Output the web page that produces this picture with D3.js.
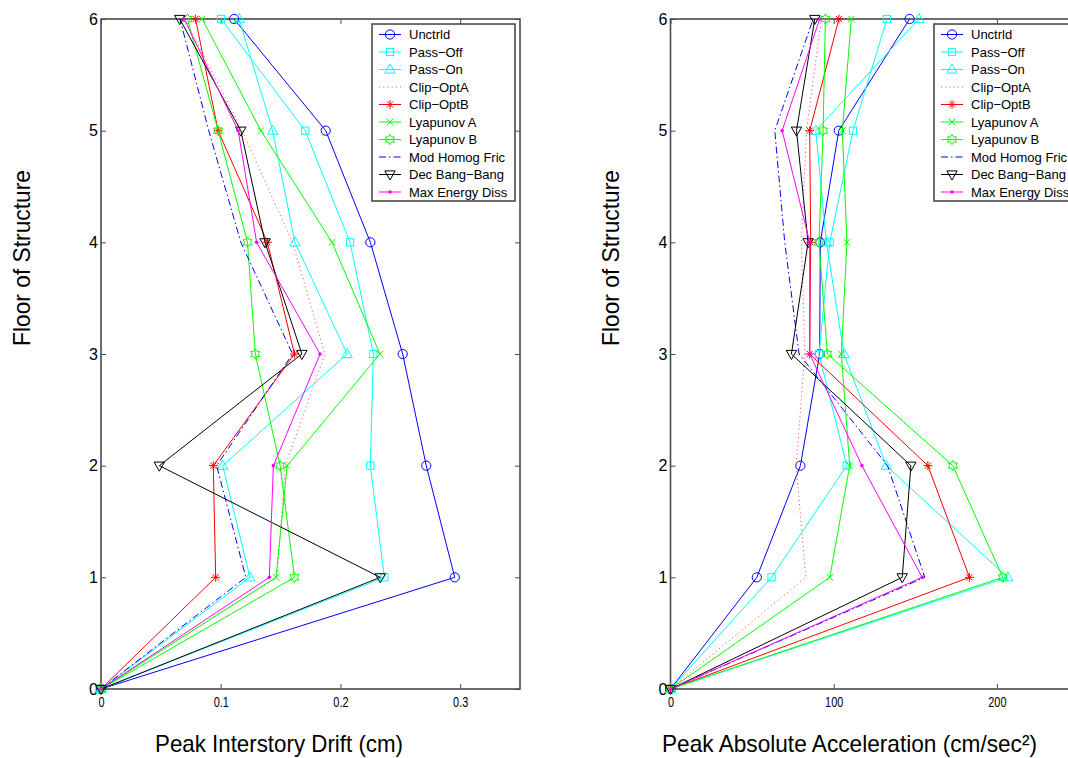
<!DOCTYPE html>
<html>
<head>
<meta charset="utf-8">
<script src="https://cdn.jsdelivr.net/npm/d3@7"></script>
<style>
  html, body { margin: 0; padding: 0; background: #fff; }
  svg { display: block; }
  text { font-family: "Liberation Sans", Arial, Helvetica, sans-serif; fill: #000; }
</style>
</head>
<body>
<svg id="chart" width="1068" height="758"></svg>
<script>
// Floors of the six-storey structure
const floors = [0, 1, 2, 3, 4, 5, 6];

// Controller names (legend order)
const seriesNames = ["Unctrld", "Pass\u2212Off", "Pass\u2212On", "Clip\u2212OptA", "Clip\u2212OptB",
  "Lyapunov A", "Lyapunov B", "Mod Homog Fric", "Dec Bang\u2212Bang", "Max Energy Diss"];

// Peak interstory drift (cm), floors 0..6
const driftUnctrld   = [0, 0.2955, 0.2717, 0.252, 0.225, 0.1877, 0.1112];
const driftPassOff   = [0, 0.2367, 0.225, 0.2275, 0.208, 0.1706, 0.1003];
const driftPassOn    = [0, 0.1244, 0.1017, 0.2056, 0.162, 0.1434, 0.1154];
const driftClipA     = [0, 0.147, 0.154, 0.187, 0.160, 0.118, 0.070];
const driftClipB     = [0, 0.0958, 0.0938, 0.1616, 0.139, 0.0978, 0.079];
const driftLyapA     = [0, 0.1462, 0.1555, 0.233, 0.193, 0.1336, 0.0845];
const driftLyapB     = [0, 0.1616, 0.1496, 0.1289, 0.1224, 0.0978, 0.0722];
const driftModHomog  = [0, 0.121, 0.0966, 0.160, 0.1168, 0.090, 0.066];
const driftDecBang   = [0, 0.2333, 0.0487, 0.1678, 0.137, 0.1168, 0.0658];
const driftMaxEnergy = [0, 0.1406, 0.144, 0.183, 0.130, 0.1146, 0.0695];

// Peak absolute acceleration (cm/sec^2), floors 0..6
const accUnctrld   = [0, 52.9, 79.6, 91.4, 91.8, 103.1, 146.5];
const accPassOff   = [0, 61.9, 108, 91, 97.6, 111.8, 132.6];
const accPassOn    = [0, 206.6, 132.2, 106.3, 95.5, 89, 152.2];
const accClipA     = [0, 82.9, 77, 82.3, 80.2, 83.3, 92.4];
const accClipB     = [0, 183.2, 157.7, 85.3, 85.9, 85.3, 103.2];
const accLyapA     = [0, 97.6, 109.8, 104.7, 108.1, 105.3, 110.8];
const accLyapB     = [0, 203.6, 173, 96.1, 91, 93.5, 94.9];
const accModHomog  = [0, 155.8, 133, 78.8, 70, 63.9, 87.4];
const accDecBang   = [0, 142, 147.3, 74.1, 84.3, 77.2, 88.4];
const accMaxEnergy = [0, 154.2, 117.3, 85.3, 85.3, 68.4, 91.4];

// Tick labels
const driftTicks = [0, 0.1, 0.2, 0.3];
const driftTickLabels = ["0", "0.1", "0.2", "0.3"];
const accTicks = [0, 100, 200];
const accTickLabels = ["0", "100", "200"];
const floorTickLabels = ["0", "1", "2", "3", "4", "5", "6"];

// Line style per series: colour, dash pattern, marker
const styles = [
  { color: "#0000ff", dash: null, marker: "circle" },
  { color: "#00ffff", dash: null, marker: "square" },
  { color: "#00ffff", dash: null, marker: "triUp" },
  { color: "#ff5a5a", dash: "1.2,3", marker: "none" },
  { color: "#ff0000", dash: null, marker: "asterisk" },
  { color: "#00ff00", dash: null, marker: "cross" },
  { color: "#00ff00", dash: null, marker: "hexagram" },
  { color: "#0000ff", dash: "7,3,1.5,3", marker: "none" },
  { color: "#000000", dash: null, marker: "triDown" },
  { color: "#ff00ff", dash: null, marker: "dot" }
];

const svg = d3.select("#chart");
const frameColor = "#4a4a4a";

function drawMarker(g, type, cx, cy, color) {
  const m = g.append("g").attr("transform", `translate(${cx},${cy})`)
    .attr("fill", "none").attr("stroke", color).attr("stroke-width", 1);
  if (type === "circle") {
    m.append("circle").attr("r", 4.6);
  } else if (type === "square") {
    m.append("rect").attr("x", -3.6).attr("y", -3.6).attr("width", 7.2).attr("height", 7.2);
  } else if (type === "triUp") {
    m.append("path").attr("d", "M0,-5.5L5.2,3.6L-5.2,3.6Z");
  } else if (type === "triDown") {
    m.append("path").attr("d", "M0,5.5L5.2,-3.6L-5.2,-3.6Z");
  } else if (type === "asterisk") {
    m.append("path").attr("d", "M-4.4,0H4.4M0,-4.4V4.4M-3.1,-3.1L3.1,3.1M-3.1,3.1L3.1,-3.1");
  } else if (type === "cross") {
    m.append("path").attr("d", "M-3.3,-3.3L3.3,3.3M-3.3,3.3L3.3,-3.3");
  } else if (type === "hexagram") {
    const pts = [];
    for (let i = 0; i < 12; i++) {
      const r = i % 2 === 0 ? 5.2 : 3.0;
      const a = -Math.PI / 2 + i * Math.PI / 6;
      pts.push([r * Math.cos(a), r * Math.sin(a)]);
    }
    m.append("path").attr("d", "M" + pts.map(p => p.join(",")).join("L") + "Z");
  } else if (type === "dot") {
    m.append("circle").attr("r", 1.8).attr("fill", color).attr("stroke", "none");
  }
}

function drawPanel(opts) {
  const { x0, x1, xMax, ticks, tickLabels, series, legendX, title, titleX, titleLen, ylabelX } = opts;
  const yTop = 19, yBot = 689;
  const x = d3.scaleLinear().domain([0, xMax]).range([x0, x1]);
  const y = d3.scaleLinear().domain([0, 6]).range([yBot, yTop]);
  const g = svg.append("g");

  // Box axes with inward ticks on all four sides
  const axB = g.append("g").attr("transform", `translate(0,${yBot})`)
    .call(d3.axisBottom(x).tickValues(ticks).tickSizeInner(-5).tickSizeOuter(0)
      .tickPadding(8).tickFormat((d, i) => tickLabels[i]));
  // Narrow x tick labels, compressed about their own anchor
  axB.selectAll("text").attr("font-size", 14).attr("dy", "0.75em")
    .attr("transform", "scale(0.78,1)");
  const axT = g.append("g").attr("transform", `translate(0,${yTop})`)
    .call(d3.axisTop(x).tickValues(ticks).tickSizeInner(-5).tickSizeOuter(0).tickFormat(""));
  const axL = g.append("g").attr("transform", `translate(${x0},0)`)
    .call(d3.axisLeft(y).tickValues(floors).tickSizeInner(-5).tickSizeOuter(0)
      .tickPadding(3).tickFormat((d, i) => floorTickLabels[i]));
  axL.selectAll("text").attr("font-size", 16);
  const axR = g.append("g").attr("transform", `translate(${x1},0)`)
    .call(d3.axisRight(y).tickValues(floors).tickSizeInner(-5).tickSizeOuter(0).tickFormat(""));
  [axB, axT, axL, axR].forEach(a => {
    a.select(".domain").remove();
    a.selectAll("line").attr("stroke", frameColor).attr("stroke-width", 1);
    a.attr("font-family", null);
  });
  g.append("rect").attr("x", x0).attr("y", yTop).attr("width", x1 - x0).attr("height", yBot - yTop)
    .attr("fill", "none").attr("stroke", frameColor).attr("stroke-width", 1.6);

  // Series lines and markers
  const line = d3.line().x(d => x(d[0])).y(d => y(d[1]));
  series.forEach((vals, i) => {
    const st = styles[i];
    const pts = vals.map((v, k) => [v, floors[k]]);
    g.append("path").datum(pts).attr("d", line)
      .attr("fill", "none").attr("stroke", st.color).attr("stroke-width", 1)
      .attr("stroke-dasharray", st.dash);
    pts.forEach(p => drawMarker(g, st.marker, x(p[0]), y(p[1]), st.color));
  });

  // Legend
  const lg = g.append("g");
  const rowH = 17.5, top = 24;
  lg.append("rect").attr("x", legendX).attr("y", top).attr("width", 143).attr("height", 177)
    .attr("fill", "#fff").attr("stroke", frameColor).attr("stroke-width", 1.6);
  seriesNames.forEach((name, i) => {
    const st = styles[i];
    const cy = top + 10.5 + i * rowH;
    lg.append("line").attr("x1", legendX + 7).attr("x2", legendX + 29).attr("y1", cy).attr("y2", cy)
      .attr("stroke", st.color).attr("stroke-width", 1).attr("stroke-dasharray", st.dash);
    drawMarker(lg, st.marker, legendX + 18, cy, st.color);
    lg.append("text").attr("x", legendX + 37).attr("y", cy).attr("dy", "0.36em")
      .attr("font-size", 13).text(name);
  });

  // Axis titles (narrow lettering, fitted to a fixed width)
  g.append("text").attr("x", titleX).attr("y", 752).attr("font-size", 24)
    .attr("textLength", titleLen).attr("lengthAdjust", "spacingAndGlyphs")
    .text(title);
  g.append("text").attr("transform", `translate(${ylabelX},258) rotate(-90)`)
    .attr("text-anchor", "middle").attr("font-size", 24)
    .attr("textLength", 176).attr("lengthAdjust", "spacingAndGlyphs")
    .text("Floor of Structure");
}

drawPanel({
  x0: 101, x1: 520, xMax: 0.35, ticks: driftTicks, tickLabels: driftTickLabels,
  series: [driftUnctrld, driftPassOff, driftPassOn, driftClipA, driftClipB,
           driftLyapA, driftLyapB, driftModHomog, driftDecBang, driftMaxEnergy],
  legendX: 372, title: "Peak Interstory Drift (cm)", titleX: 155, titleLen: 248, ylabelX: 30
});

drawPanel({
  x0: 670.5, x1: 1078.5, xMax: 250, ticks: accTicks, tickLabels: accTickLabels,
  series: [accUnctrld, accPassOff, accPassOn, accClipA, accClipB,
           accLyapA, accLyapB, accModHomog, accDecBang, accMaxEnergy],
  legendX: 934, title: "Peak Absolute Acceleration (cm/sec\u00B2)", titleX: 662, titleLen: 375, ylabelX: 619
});
</script>
</body>
</html>
